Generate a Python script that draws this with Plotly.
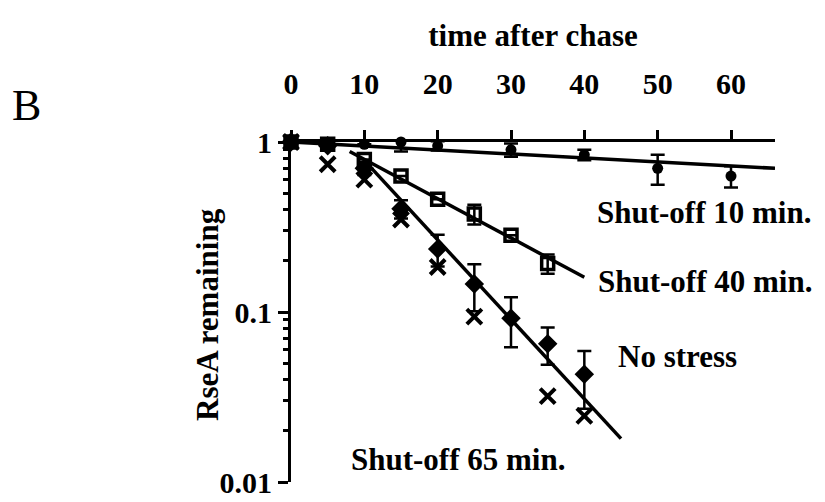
import math
import plotly.graph_objects as go

# Time points (min after chase) and fraction of RseA remaining
t_no_stress = [0, 5, 10, 15, 20, 25, 30, 35, 40]
no_stress = [1.0, 0.95, 0.70, 0.405, 0.235, 0.146, 0.092, 0.065, 0.043]
no_stress_err = [0, 0, 0.06, 0.05, 0.05, 0.045, 0.03, 0.016, 0.016]

t_off40 = [0, 5, 10, 15, 20, 25, 30, 35]
off40 = [1.0, 0.97, 0.79, 0.63, 0.46, 0.377, 0.283, 0.193]
off40_err = [0, 0, 0, 0, 0, 0.05, 0, 0.025]

t_off65 = [0, 5, 10, 15, 20, 25, 35, 40]
off65 = [1.0, 0.74, 0.60, 0.35, 0.184, 0.094, 0.032, 0.0245]

t_off10 = [0, 5, 10, 15, 20, 30, 40, 50, 60]
off10 = [1.0, 0.98, 0.97, 1.0, 0.95, 0.90, 0.84, 0.70, 0.63]
off10_err = [0, 0, 0, 0.12, 0.06, 0.08, 0.06, 0.14, 0.09]

# Exponential decay fits (straight on the log axis)
fit10_t, fit10_v = [0, 66], [1.0, 0.70]
fit40_t, fit40_v = [8, 40], [0.88, 0.16]
fit65_t, fit65_v = [11, 45], [0.70, 0.018]

x_ticks = [0, 10, 20, 30, 40, 50, 60]
y_ticks = [0.01, 0.1, 1]
y_tick_text = ["0.01", "0.1", "1"]
y_minor_ticks = [d * s for s in (0.01, 0.1) for d in range(2, 10)]

FONT = "Liberation Serif"
BLACK = "black"

# plot area in pixels
L, T, W, H = 291, 142, 484, 340


def paper_x(px):
    return (px - L) / W


def paper_y(py):
    return (T + H - py) / H


fig = go.Figure()

for tx, vy in [(fit10_t, fit10_v), (fit40_t, fit40_v), (fit65_t, fit65_v)]:
    fig.add_trace(go.Scatter(x=tx, y=vy, mode="lines",
                             line=dict(color=BLACK, width=3.5),
                             hoverinfo="skip", showlegend=False))


def err(arr):
    return dict(type="data", array=arr, visible=True, color=BLACK,
                thickness=2.5, width=7)


fig.add_trace(go.Scatter(
    x=t_off10, y=off10, mode="markers", name="Shut-off 10 min.",
    marker=dict(symbol="circle", size=11, color=BLACK),
    error_y=err(off10_err), cliponaxis=False, showlegend=False))

fig.add_trace(go.Scatter(
    x=t_off40, y=off40, mode="markers", name="Shut-off 40 min.",
    marker=dict(symbol="square-open", size=12, color=BLACK,
                line=dict(width=3.5, color=BLACK)),
    error_y=err(off40_err), cliponaxis=False, showlegend=False))

fig.add_trace(go.Scatter(
    x=t_no_stress, y=no_stress, mode="markers", name="No stress",
    marker=dict(symbol="diamond", size=15, color=BLACK),
    error_y=err(no_stress_err), cliponaxis=False, showlegend=False))

fig.add_trace(go.Scatter(
    x=t_off65, y=off65, mode="markers", name="Shut-off 65 min.",
    marker=dict(symbol="x-thin", size=15, color=BLACK,
                line=dict(width=4, color=BLACK)),
    cliponaxis=False, showlegend=False))

label_font = dict(family=FONT, size=31, color=BLACK, weight="bold")

# series labels, positioned in data coordinates (log axis takes log10 values)
series_labels = [
    ("Shut-off 10 min.", 41.5, 0.383, "left"),
    ("Shut-off 40 min.", 41.6, 0.152, "left"),
    ("No stress", 44.3, 0.0547, "left"),
    ("Shut-off 65 min.", 37.7, 0.0136, "right"),
]
for text, x, y, anchor in series_labels:
    fig.add_annotation(x=x, y=math.log10(y), xref="x", yref="y", text=text,
                       showarrow=False, xanchor=anchor, yanchor="middle",
                       font=label_font)

fig.add_annotation(x=paper_x(26), y=paper_y(106), xref="paper", yref="paper",
                   text="B", showarrow=False, xanchor="center",
                   yanchor="middle",
                   font=dict(family=FONT, size=44, color=BLACK))

fig.add_annotation(x=paper_x(207), y=paper_y(315), xref="paper",
                   yref="paper", text="RseA remaining", textangle=-90,
                   showarrow=False, xanchor="center", yanchor="middle",
                   font=label_font)

fig.update_layout(
    template="none",
    width=825, height=502,
    margin=dict(l=L, r=825 - L - W, t=T, b=502 - T - H),
    paper_bgcolor="white", plot_bgcolor="white",
    font=dict(family=FONT, color=BLACK),
    xaxis=dict(
        side="top", range=[0, 66], tickmode="array", tickvals=x_ticks,
        ticks="outside", ticklen=9, tickwidth=3, tickcolor=BLACK,
        showline=True, linewidth=3, linecolor=BLACK,
        showgrid=False, zeroline=False,
        tickfont=dict(family=FONT, size=30, color=BLACK, weight="bold"),
        ticklabelstandoff=24,
        title=dict(text="time after chase", standoff=12,
                   font=dict(family=FONT, size=31, color=BLACK,
                             weight="bold")),
    ),
    yaxis=dict(
        type="log", range=[-2, 0], tickmode="array",
        tickvals=y_ticks, ticktext=y_tick_text,
        ticks="outside", ticklen=10, tickwidth=3, tickcolor=BLACK,
        showline=True, linewidth=3, linecolor=BLACK,
        showgrid=False, zeroline=False,
        tickfont=dict(family=FONT, size=30, color=BLACK, weight="bold"),
    ),
    # second y axis carries only the small log ticks between decades
    yaxis2=dict(
        type="log", range=[-2, 0], overlaying="y", side="left",
        tickmode="array", tickvals=y_minor_ticks, showticklabels=False,
        ticks="outside", ticklen=7, tickwidth=3, tickcolor=BLACK,
        showline=False, showgrid=False, zeroline=False,
    ),
)

# an empty trace so the minor-tick axis is drawn
fig.add_trace(go.Scatter(x=[None], y=[None], yaxis="y2", showlegend=False,
                         hoverinfo="skip"))

fig.write_html("out.html")
